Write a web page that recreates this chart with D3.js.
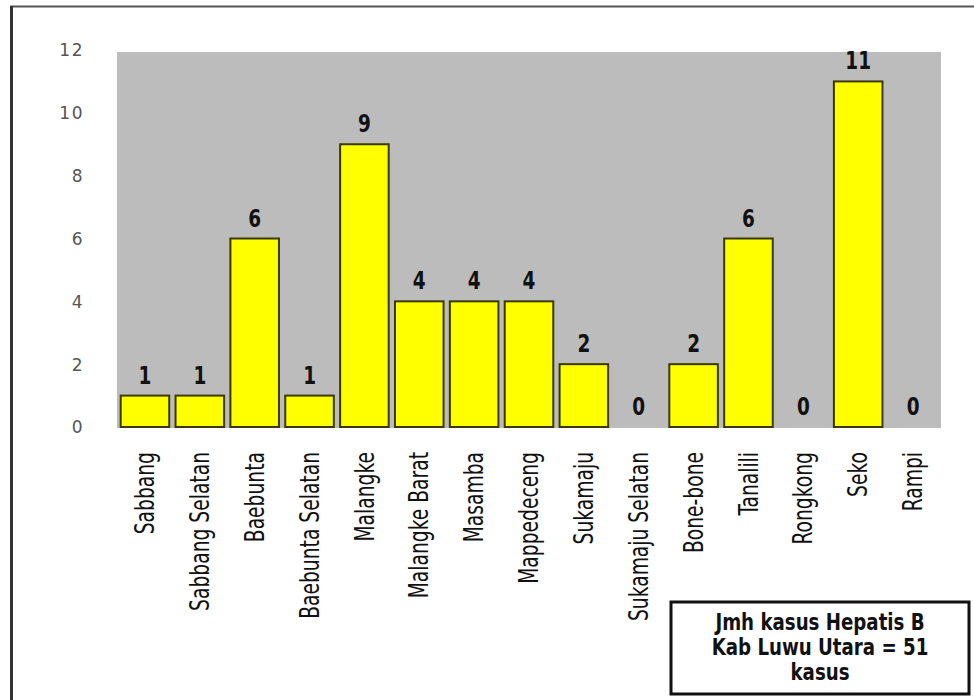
<!DOCTYPE html>
<html>
<head>
<meta charset="utf-8">
<script src="https://cdn.jsdelivr.net/npm/d3@7"></script>
<style>
  html, body { margin: 0; padding: 0; background: #ffffff; }
  svg { display: block; }
</style>
</head>
<body>
<svg id="chart" width="974" height="700"></svg>
<script>
// Kecamatan (districts) and number of Hepatitis B cases
const districts = [
  "Sabbang", "Sabbang Selatan", "Baebunta", "Baebunta Selatan", "Malangke",
  "Malangke Barat", "Masamba", "Mappedeceng", "Sukamaju", "Sukamaju Selatan",
  "Bone-bone", "Tanalili", "Rongkong", "Seko", "Rampi"
];
const cases = [1, 1, 6, 1, 9, 4, 4, 4, 2, 0, 2, 6, 0, 11, 0];
const yTicks = [0, 2, 4, 6, 8, 10, 12];
const noteLines = ["Jmh kasus Hepatis B", "Kab Luwu Utara = 51", "kasus"];

const condensed = "'DejaVu Sans Condensed', 'DejaVu Sans', sans-serif";

const svg = d3.select("#chart");

// outer frame lines (top and left)
svg.append("line").attr("x1", 10).attr("x2", 974).attr("y1", 6.5).attr("y2", 6.5)
  .attr("stroke", "#555").attr("stroke-width", 2);
svg.append("line").attr("x1", 11.5).attr("x2", 11.5).attr("y1", 6).attr("y2", 700)
  .attr("stroke", "#333").attr("stroke-width", 3);

const plot = { left: 117, right: 941, top: 52, bottom: 428 };

const x = d3.scaleBand()
  .domain(districts)
  .range([plot.left, plot.right])
  .paddingInner(0.115)
  .paddingOuter(0.067);

const y = d3.scaleLinear()
  .domain([0, 12])
  .range([427, 50]);

// plot background
svg.append("rect")
  .attr("x", plot.left).attr("y", plot.top)
  .attr("width", plot.right - plot.left).attr("height", plot.bottom - plot.top)
  .attr("fill", "#bcbcbc");

// y axis labels
const yAxis = d3.axisLeft(y).tickValues(yTicks).tickSize(0).tickPadding(0);
const yg = svg.append("g").attr("transform", "translate(84,0)").call(yAxis);
yg.select(".domain").remove();
yg.selectAll("text")
  .attr("font-family", "'DejaVu Sans', Verdana, sans-serif")
  .attr("font-size", 17)
  .attr("letter-spacing", 1.5)
  .attr("fill", "#555")
  .attr("dy", "0.35em");

// bars
svg.append("g").selectAll("rect")
  .data(cases)
  .join("rect")
  .attr("x", (d, i) => x(districts[i]))
  .attr("y", d => y(d))
  .attr("width", x.bandwidth())
  .attr("height", d => y(0) - y(d))
  .attr("fill", "#ffff00")
  .attr("stroke", "#3a3a00")
  .attr("stroke-width", 2)
  .attr("display", d => d > 0 ? null : "none");

// value labels
svg.append("g").selectAll("text")
  .data(cases)
  .join("text")
  .attr("transform", (d, i) =>
    `translate(${x(districts[i]) + x.bandwidth() / 2},${y(d) - 12}) scale(0.82,1)`)
  .attr("text-anchor", "middle")
  .attr("font-family", condensed)
  .attr("font-weight", "bold")
  .attr("font-size", 25)
  .attr("fill", "#111")
  .text(d => d);

// category labels (rotated, narrow lettering)
const xAxis = d3.axisBottom(x).tickSize(0).tickPadding(0);
const xg = svg.append("g").attr("transform", "translate(0,452)").call(xAxis);
xg.select(".domain").remove();
xg.selectAll("text")
  .attr("font-family", condensed)
  .attr("font-size", 26)
  .attr("fill", "#111")
  .attr("text-anchor", "end")
  .attr("transform", "rotate(-90) scale(0.8,1)")
  .attr("x", 0)
  .attr("y", 0)
  .attr("dy", "0.35em");

// note box
const box = { x: 671, y: 602, w: 298, h: 92 };
svg.append("rect")
  .attr("x", box.x).attr("y", box.y).attr("width", box.w).attr("height", box.h)
  .attr("fill", "#fff").attr("stroke", "#111").attr("stroke-width", 3);
svg.append("g").selectAll("text")
  .data(noteLines)
  .join("text")
  .attr("transform", (d, i) => `translate(${box.x + box.w / 2},${630 + i * 25}) scale(0.88,1)`)
  .attr("text-anchor", "middle")
  .attr("font-family", condensed)
  .attr("font-weight", "bold")
  .attr("font-size", 23)
  .attr("fill", "#111")
  .text(d => d);
</script>
</body>
</html>
